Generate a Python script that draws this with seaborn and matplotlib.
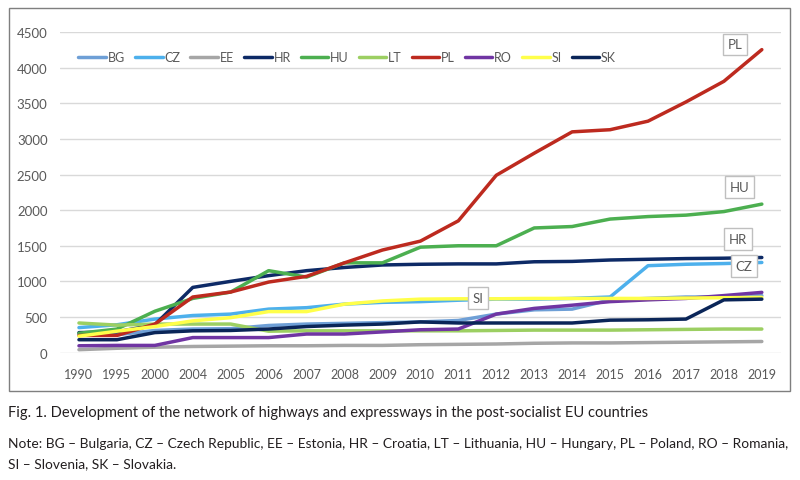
import pandas as pd
import matplotlib.pyplot as plt
import seaborn as sns
from matplotlib.patches import Rectangle

# Length of highways and expressways (km)
years = ['1990', '1995', '2000', '2004', '2005', '2006', '2007', '2008', '2009', '2010',
         '2011', '2012', '2013', '2014', '2015', '2016', '2017', '2018', '2019']
countries = ['BG', 'CZ', 'EE', 'HR', 'HU', 'LT', 'PL', 'RO', 'SI', 'SK']

bg = [260, 250, 310, 330, 335, 380, 400, 410, 420, 430, 450, 540, 600, 610, 740, 760, 780, 780, 800]
cz = [350, 390, 470, 520, 540, 610, 630, 680, 705, 715, 735, 750, 750, 760, 780, 1220, 1240, 1250, 1265]
ee = [40, 60, 75, 85, 90, 95, 95, 100, 100, 110, 115, 120, 130, 135, 135, 140, 145, 150, 155]
hr = [280, 290, 390, 915, 1000, 1080, 1150, 1195, 1230, 1240, 1245, 1245, 1275, 1280, 1300, 1310, 1320, 1325, 1335]
hu = [270, 330, 580, 760, 850, 1150, 1060, 1260, 1260, 1480, 1500, 1500, 1750, 1770, 1875, 1910, 1930, 1980, 2085]
lt = [415, 385, 400, 400, 400, 300, 305, 305, 305, 305, 305, 310, 315, 315, 315, 320, 325, 330, 330]
pl = [240, 240, 400, 780, 850, 990, 1070, 1260, 1440, 1565, 1850, 2490, 2800, 3100, 3130, 3250, 3520, 3810, 4255]
ro = [95, 100, 100, 210, 210, 210, 260, 260, 290, 320, 330, 540, 620, 665, 715, 740, 760, 800, 845]
si = [230, 300, 365, 445, 490, 575, 575, 680, 725, 750, 755, 755, 760, 760, 760, 760, 765, 770, 775]
sk = [180, 180, 280, 305, 310, 330, 365, 385, 400, 430, 415, 415, 415, 415, 455, 460, 470, 740, 750]

colors = ['#6e9fd6', '#4db0ec', '#a6a6a6', '#0d2a66', '#4caf50', '#9ccf62',
          '#bd2a1f', '#7035a3', '#ffff4a', '#0a2558']

df = pd.DataFrame({'BG': bg, 'CZ': cz, 'EE': ee, 'HR': hr, 'HU': hu, 'LT': lt,
                   'PL': pl, 'RO': ro, 'SI': si, 'SK': sk})
df['pos'] = range(len(years))
long_df = df.melt(id_vars='pos', var_name='Country', value_name='km')

sns.set_theme(style='white')
plt.rcParams['font.family'] = ['Lato', 'DejaVu Sans']

fig = plt.figure(figsize=(8, 4.81), dpi=100)
ax = fig.add_axes([0.075, 0.265, 0.901, 0.666])

sns.lineplot(data=long_df, x='pos', y='km', hue='Country', hue_order=countries,
             palette=colors, linewidth=2.5, ax=ax)

ax.set_xlim(-0.5, len(years) - 0.5)
ax.set_ylim(0, 4500)
ax.set_xticks(range(len(years)))
ax.set_xticklabels(years)
ax.set_yticks(range(0, 4501, 500))
ax.set_xlabel('')
ax.set_ylabel('')
ax.tick_params(axis='both', length=0, labelsize=9, colors='#595959')
ax.tick_params(axis='x', pad=11)
ax.tick_params(axis='y', labelsize=9.5, pad=9)
ax.grid(axis='y', color='#d9d9d9', linewidth=1)
ax.set_axisbelow(True)
for s in ax.spines.values():
    s.set_visible(False)

leg = ax.legend(loc='upper left', bbox_to_anchor=(0.01, 0.975), ncol=10, frameon=False,
                fontsize=9, handlelength=2.2, handletextpad=0.15, columnspacing=0.8)
for t in leg.get_texts():
    t.set_color('#595959')

# series labels in boxes
box = dict(boxstyle='square,pad=0.35', fc='white', ec='#bfbfbf', lw=1)
labels = [('PL', 17.29, 4330), ('HU', 17.42, 2325), ('HR', 17.37, 1595),
          ('CZ', 17.53, 1215), ('SI', 10.52, 765)]
for name, x, y in labels:
    ax.text(x, y, name, ha='center', va='center', fontsize=9.5, color='#595959', bbox=box)

# frame around the chart area
fig.add_artist(Rectangle((9 / 800, 1 - 392 / 481), 781 / 800, 383 / 481,
                         transform=fig.transFigure, fill=False, ec='#7f7f7f', lw=1))

fig.text(8 / 800, 1 - 413 / 481,
         'Fig. 1. Development of the network of highways and expressways in the post-socialist EU countries',
         fontsize=10.5, va='center', ha='left', color='#231f20')
fig.text(8 / 800, 1 - 444 / 481,
         'Note: BG – Bulgaria, CZ – Czech Republic, EE – Estonia, HR – Croatia, LT – Lithuania, '
         'HU – Hungary, PL – Poland, RO – Romania,',
         fontsize=9.9, va='center', ha='left', color='#231f20')
fig.text(8 / 800, 1 - 464 / 481, 'SI – Slovenia, SK – Slovakia.',
         fontsize=9.9, va='center', ha='left', color='#231f20')

fig.savefig('out.png', dpi=100)
